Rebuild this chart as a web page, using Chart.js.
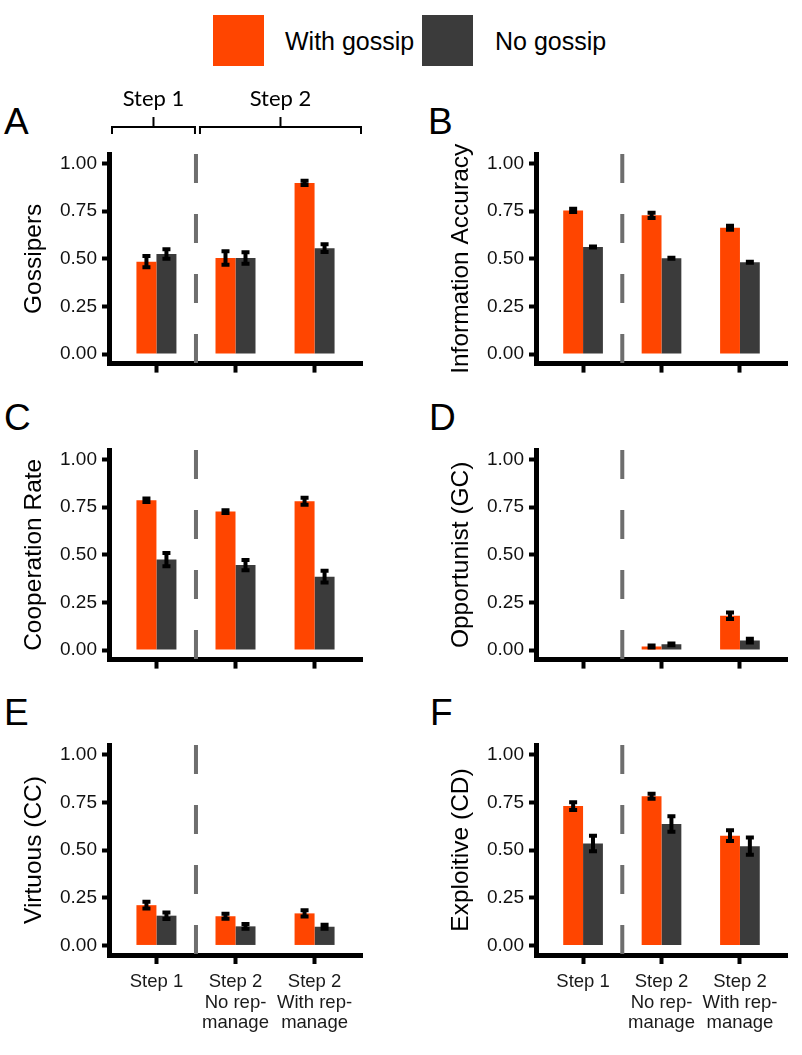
<!DOCTYPE html>
<html>
<head>
<meta charset="utf-8">
<title>Gossip</title>
<script src="https://cdn.jsdelivr.net/npm/chart.js@4.4.0/dist/chart.umd.min.js"></script>
<style>
  body { margin: 0; background: #fff; }
  #page { position: relative; width: 802px; height: 1055px; font-family: "Liberation Sans", Arial, sans-serif; color: #000; }
  canvas { position: absolute; }
  .swatch { position: absolute; top: 15px; width: 51px; height: 51px; }
  .legtext { position: absolute; top: 26px; font-size: 25px; line-height: 30px; }
  .letter { position: absolute; font-size: 37px; line-height: 37px; }
</style>
</head>
<body>
<div id="page">
  <div class="swatch" style="left:213px;background:#FF4500"></div>
  <div class="legtext" style="left:285px">With gossip</div>
  <div class="swatch" style="left:422px;background:#3b3b3b"></div>
  <div class="legtext" style="left:495px">No gossip</div>

  <div class="letter" style="left:4px;top:103px">A</div>
  <div class="letter" style="left:428px;top:103px">B</div>
  <div class="letter" style="left:4px;top:399px">C</div>
  <div class="letter" style="left:429px;top:399px">D</div>
  <div class="letter" style="left:4px;top:694px">E</div>
  <div class="letter" style="left:430px;top:694px">F</div>

  <canvas id="panelA" width="365" height="300" style="left:0;top:80px"></canvas>
  <canvas id="panelB" width="363" height="300" style="left:427px;top:80px"></canvas>
  <canvas id="panelC" width="365" height="300" style="left:0;top:376px"></canvas>
  <canvas id="panelD" width="363" height="300" style="left:427px;top:376px"></canvas>
  <canvas id="panelE" width="365" height="364" style="left:0;top:671px"></canvas>
  <canvas id="panelF" width="363" height="364" style="left:427px;top:671px"></canvas>
</div>
<script>
// x categories (multi-line labels) and y ticks
const groupNames = ['Step 1', ['Step 2', 'No rep-', 'manage'], ['Step 2', 'With rep-', 'manage']];
const yTicks = [0, 0.25, 0.5, 0.75, 1];
const stepLabels = ['Step 1', 'Step 2'];

// A - Gossipers
const gossipersWith = [0.485, 0.504, 0.898];
const gossipersWithSe = [0.03, 0.035, 0.011];
const gossipersNo = [0.525, 0.504, 0.556];
const gossipersNoSe = [0.025, 0.03, 0.02];
// B - Information accuracy
const accuracyWith = [0.754, 0.728, 0.663];
const accuracyWithSe = [0.009, 0.014, 0.011];
const accuracyNo = [0.562, 0.503, 0.482];
const accuracyNoSe = [0.003, 0.003, 0.003];
// C - Cooperation rate
const cooperationWith = [0.786, 0.727, 0.781];
const cooperationWithSe = [0.009, 0.007, 0.018];
const cooperationNo = [0.475, 0.446, 0.385];
const cooperationNoSe = [0.035, 0.027, 0.031];
// D - Opportunist (GC)
const opportunistWith = [0, 0.019, 0.18];
const opportunistWithSe = [null, 0.005, 0.017];
const opportunistNo = [0, 0.03, 0.05];
const opportunistNoSe = [null, 0.005, 0.01];
// E - Virtuous (CC)
const virtuousWith = [0.211, 0.153, 0.168];
const virtuousWithSe = [0.018, 0.013, 0.016];
const virtuousNo = [0.156, 0.1, 0.098];
const virtuousNoSe = [0.017, 0.013, 0.011];
// F - Exploitive (CD)
const exploitiveWith = [0.73, 0.781, 0.575];
const exploitiveWithSe = [0.02, 0.013, 0.028];
const exploitiveNo = [0.534, 0.636, 0.52];
const exploitiveNoSe = [0.041, 0.041, 0.045];

const FONT = '"Liberation Sans", Arial, sans-serif';
const ORANGE = '#FF4500';
const GREY = '#3b3b3b';

// mean +/- se whiskers on top of every bar
const errorBars = {
  id: 'errorBars',
  afterDatasetsDraw(chart) {
    const ctx = chart.ctx, y = chart.scales.y;
    ctx.save();
    ctx.strokeStyle = '#000';
    ctx.lineWidth = 4;
    chart.data.datasets.forEach((ds, i) => {
      chart.getDatasetMeta(i).data.forEach((bar, j) => {
        const se = ds.errors[j];
        if (se == null) return;
        const v = ds.data[j].y;
        const top = y.getPixelForValue(v + se), bot = y.getPixelForValue(v - se);
        ctx.beginPath();
        ctx.moveTo(bar.x, top - 2); ctx.lineTo(bar.x, bot + 2);
        ctx.moveTo(bar.x - 4, top); ctx.lineTo(bar.x + 4, top);
        ctx.moveTo(bar.x - 4, bot); ctx.lineTo(bar.x + 4, bot);
        ctx.stroke();
      });
    });
    ctx.restore();
  }
};

// dashed line between step 1 and step 2
const divider = {
  id: 'divider',
  afterDraw(chart) {
    const {ctx, chartArea, scales: {x}} = chart;
    const px = x.getPixelForValue(1.5);
    ctx.save();
    ctx.strokeStyle = '#6e6e6e';
    ctx.lineWidth = 4;
    ctx.setLineDash([29, 31]);
    ctx.beginPath();
    ctx.moveTo(px, chartArea.top);
    ctx.lineTo(px, chartArea.bottom + 7);
    ctx.stroke();
    ctx.restore();
  }
};

// the Step 1 / Step 2 brackets above panel A
const stepBrackets = {
  id: 'stepBrackets',
  afterDraw(chart) {
    const {ctx, chartArea: {top}, scales: {x}} = chart;
    const spans = [
      [x.getPixelForValue(0.4) + 3, x.getPixelForValue(1.5) - 1],
      [x.getPixelForValue(1.5) + 4, x.getPixelForValue(3.6) - 1]
    ];
    ctx.save();
    ctx.strokeStyle = '#000';
    ctx.fillStyle = '#000';
    ctx.lineWidth = 2;
    ctx.font = '22px Lato, "Open Sans", sans-serif';
    ctx.textAlign = 'center';
    spans.forEach(([a, b], i) => {
      const m = (a + b) / 2, yh = top - 27;
      ctx.beginPath();
      ctx.moveTo(a, top - 20); ctx.lineTo(a, yh); ctx.lineTo(b, yh); ctx.lineTo(b, top - 20);
      ctx.moveTo(m, yh); ctx.lineTo(m, top - 37);
      ctx.stroke();
      ctx.fillText(stepLabels[i], m, top - 48);
    });
    ctx.restore();
  }
};

function makePanel(id, title, withVals, withSe, noVals, noSe, bottomRow, extra) {
  const toXY = vals => vals.map((v, k) => ({x: k + 1, y: v}));
  const axisLine = {display: true, width: 5, color: '#000'};
  return new Chart(document.getElementById(id), {
    type: 'bar',
    data: {
      datasets: [
        {label: 'With gossip', data: toXY(withVals), errors: withSe, backgroundColor: ORANGE},
        {label: 'No gossip', data: toXY(noVals), errors: noSe, backgroundColor: GREY}
      ]
    },
    options: {
      responsive: false,
      animation: false,
      categoryPercentage: 0.506,
      barPercentage: 1,
      layout: {padding: {top: 74, right: 3, left: 0, bottom: 0}},
      plugins: {legend: {display: false}, tooltip: {enabled: false}},
      scales: {
        x: {
          type: 'linear', min: 0.4, max: 3.6, offset: false,
          afterBuildTicks: s => { s.ticks = groupNames.map((_, k) => ({value: k + 1})); },
          afterFit: s => { s.height = bottomRow ? 80 : 16; },
          border: axisLine,
          grid: {display: true, offset: false, drawOnChartArea: false, drawTicks: true, tickLength: 9, tickWidth: 4, tickColor: '#000'},
          ticks: {
            display: bottomRow, autoSkip: false, maxRotation: 0, padding: 8, color: '#1a1a1a',
            font: {family: FONT, size: 18.5, lineHeight: 1.1},
            callback: v => groupNames[Math.round(v) - 1]
          }
        },
        y: {
          min: -0.05, max: 1.05,
          afterBuildTicks: s => { s.ticks = yTicks.map(v => ({value: v})); },
          afterFit: s => { s.width = 109; },
          border: axisLine,
          grid: {display: true, drawOnChartArea: false, drawTicks: true, tickLength: 7, tickWidth: 4, tickColor: '#000'},
          ticks: {padding: 5, color: '#111', font: {family: FONT, size: 19}, callback: v => v.toFixed(2)},
          title: {display: true, text: title, color: '#000', font: {family: FONT, size: 24.5, lineHeight: 1.2}, padding: {top: 20, bottom: 0}}
        }
      }
    },
    plugins: [errorBars, divider].concat(extra || [])
  });
}

makePanel('panelA', 'Gossipers', gossipersWith, gossipersWithSe, gossipersNo, gossipersNoSe, false, [stepBrackets]);
makePanel('panelB', 'Information Accuracy', accuracyWith, accuracyWithSe, accuracyNo, accuracyNoSe, false);
makePanel('panelC', 'Cooperation Rate', cooperationWith, cooperationWithSe, cooperationNo, cooperationNoSe, false);
makePanel('panelD', 'Opportunist (GC)', opportunistWith, opportunistWithSe, opportunistNo, opportunistNoSe, false);
makePanel('panelE', 'Virtuous (CC)', virtuousWith, virtuousWithSe, virtuousNo, virtuousNoSe, true);
makePanel('panelF', 'Exploitive (CD)', exploitiveWith, exploitiveWithSe, exploitiveNo, exploitiveNoSe, true);
</script>
</body>
</html>
